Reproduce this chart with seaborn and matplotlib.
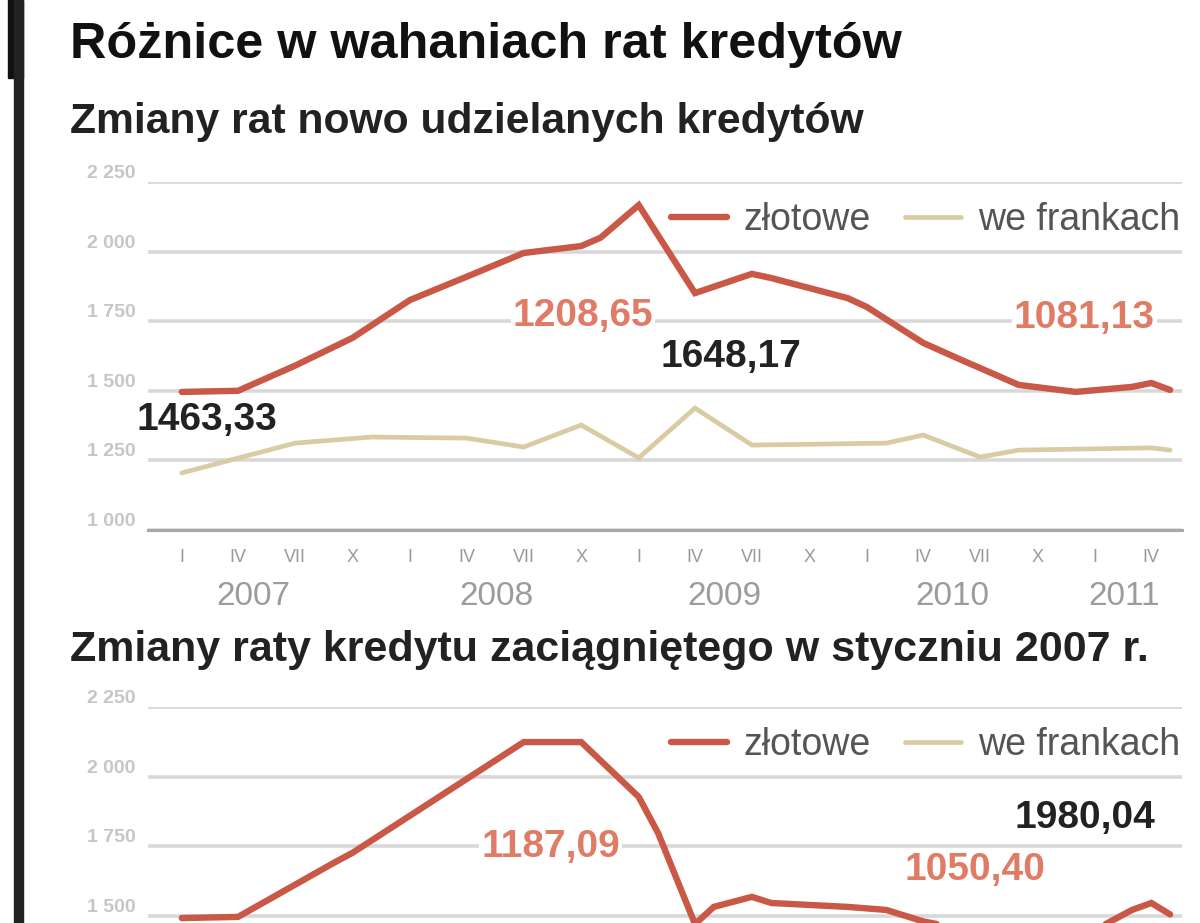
import numpy as np
import pandas as pd
import matplotlib
matplotlib.use("Agg")
import matplotlib.pyplot as plt
import matplotlib.transforms as mtransforms
import seaborn as sns

# dane (miesiac -> rata w zl)
top_zl_dates = ["2007-01", "2007-04", "2007-07", "2007-10", "2008-01", "2008-04", "2008-07",
                "2008-10", "2008-11", "2009-01", "2009-04", "2009-07", "2009-08", "2009-12",
                "2010-01", "2010-04", "2010-06", "2010-09", "2010-12", "2011-03", "2011-04", "2011-05"]
top_zl = [1496, 1500, 1590, 1690, 1826, 1910, 1995, 2020, 2050, 2167, 1851, 1920, 1905, 1833,
          1801, 1672, 1611, 1521, 1496, 1514, 1528, 1503]

top_chf_dates = ["2007-01", "2007-07", "2007-11", "2008-04", "2008-07", "2008-10", "2009-01",
                 "2009-04", "2009-07", "2010-02", "2010-04", "2010-07", "2010-09", "2011-04", "2011-05"]
top_chf = [1205, 1312, 1334, 1330, 1298, 1377, 1259, 1438, 1305, 1312, 1341, 1262, 1287, 1295, 1287]

bot_zl_dates = ["2007-01", "2007-04", "2007-09", "2007-10", "2008-07", "2008-10", "2009-01",
                "2009-02", "2009-04", "2009-05", "2009-07", "2009-08", "2009-12", "2010-02",
                "2010-04", "2010-07", "2010-10", "2011-01", "2011-03", "2011-04", "2011-05"]
bot_zl = [1492, 1496, 1690, 1726, 2124, 2124, 1927, 1797, 1470, 1532, 1568, 1546, 1532, 1521,
          1480, 1440, 1430, 1450, 1521, 1546, 1505]

bot_chf_dates = ["2007-01", "2007-07", "2008-01", "2008-07", "2008-10", "2009-01", "2009-04",
                 "2009-07", "2010-04", "2010-07", "2011-05"]
bot_chf = [1205, 1300, 1320, 1290, 1360, 1240, 1420, 1290, 1320, 1250, 1280]

y_ticks = [1000, 1250, 1500, 1750, 2000, 2250]
y_labels = ["1 000", "1 250", "1 500", "1 750", "2 000", "2 250"]
quarter_dates = pd.date_range("2007-01-01", "2011-04-01", freq="QS")
quarter_labels = ["I", "IV", "VII", "X"] * 4 + ["I", "IV"]
years = ["2007", "2008", "2009", "2010", "2011"]
year_pos = ["2007-04-25", "2008-05-18", "2009-05-18", "2010-05-18", "2011-02-16"]

# adnotacje (tekst, data, wartosc, kolor)
top_notes = [("1463,33", "2007-02-10", 1395, "#222222"),
             ("1208,65", "2008-10-04", 1769, "#e07b66"),
             ("1648,17", "2009-05-28", 1621, "#222222"),
             ("1081,13", "2010-12-15", 1761, "#e07b66")]
bot_notes = [("1187,09", "2008-08-13", 1747, "#e07b66"),
             ("1980,04", "2010-12-15", 1851, "#222222"),
             ("1050,40", "2010-06-22", 1665, "#e07b66")]

RED = "#c95846"
TAN = "#d9cba4"
FONT = ["Liberation Sans", "DejaVu Sans"]

sns.set_style("white")
plt.rcParams['font.family'] = FONT

W, H = 1200, 923
fig = plt.figure(figsize=(12, 9.23), dpi=100)


def px_axes(left, top, right, bottom):
    return fig.add_axes([left / W, 1 - bottom / H, (right - left) / W, (bottom - top) / H])


def draw_panel(ax, zl_dates, zl, chf_dates, chf, notes, ticks, show_x=True):
    d1 = pd.DataFrame({"data": pd.to_datetime(zl_dates), "rata": zl})
    d2 = pd.DataFrame({"data": pd.to_datetime(chf_dates), "rata": chf})
    sns.lineplot(data=d2, x="data", y="rata", ax=ax, color=TAN, lw=3.4, label="we frankach",
                 solid_joinstyle="miter")
    sns.lineplot(data=d1, x="data", y="rata", ax=ax, color=RED, lw=4.6, label="złotowe",
                 solid_joinstyle="miter")
    ax.set_xlim(pd.Timestamp("2006-11-08"), pd.Timestamp("2011-05-20"))
    ax.set_ylim(1000, 2250)
    ax.set_xlabel("")
    ax.set_ylabel("")
    for s in ["top", "left", "right"]:
        ax.spines[s].set_visible(False)
    ax.spines["bottom"].set_color("#a8a8a8")
    ax.spines["bottom"].set_linestyle((0, (1, 1)))
    ax.spines["bottom"].set_linewidth(2.2)
    ax.set_yticks([y_ticks[i] for i in ticks])
    ax.set_yticklabels([y_labels[i] for i in ticks])
    ax.yaxis.grid(True, color="#d8d8d8", lw=2.6)
    ax.set_axisbelow(True)
    ax.tick_params(axis="y", length=0, pad=9, labelsize=14, labelcolor="#c6c6c6")
    for lbl in ax.get_yticklabels():
        lbl.set_fontweight("bold")
        lbl.set_va("bottom")
    ax.set_xticks(quarter_dates)
    if show_x:
        ax.set_xticklabels(quarter_labels)
        ax.tick_params(axis="x", length=0, pad=14, labelsize=13, labelcolor="#9a9a9a")
        tr = mtransforms.blended_transform_factory(ax.transData, ax.transAxes)
        for y, d in zip(years, year_pos):
            ax.text(pd.Timestamp(d), -0.19, y, transform=tr, ha="center", va="center",
                    fontsize=24, color="#9c9c9c")
    else:
        ax.set_xticklabels([])
        ax.tick_params(axis="x", length=0)
    for txt, d, v, c in notes:
        ax.text(pd.Timestamp(d), v, txt, ha="center", va="center", fontsize=28,
                fontweight="bold", color=c,
                bbox=dict(facecolor="white", edgecolor="none", pad=1.5))
    h, l = ax.get_legend_handles_labels()
    ax.legend(h[::-1], l[::-1], loc="upper right", bbox_to_anchor=(1.0126, 0.985), ncol=2,
              frameon=False, fontsize=27, handlelength=1.5, columnspacing=0.9,
              handletextpad=0.45, labelcolor="#555555", borderaxespad=0)


ax1 = px_axes(148, 182, 1182, 530)
draw_panel(ax1, top_zl_dates, top_zl, top_chf_dates, top_chf, top_notes, range(6))

# dolny panel jest w oryginale uciety u dolu
ax2 = px_axes(148, 707, 1182, 1055)
draw_panel(ax2, bot_zl_dates, bot_zl, bot_chf_dates, bot_chf, bot_notes, range(2, 6), show_x=False)

# lewy pasek
fig.patches.append(plt.Rectangle((8 / W, 1 - 78 / H), 15 / W, 78 / H, transform=fig.transFigure,
                                 color="#111111", zorder=5))
fig.patches.append(plt.Rectangle((14 / W, 0), 9 / W, 1, transform=fig.transFigure,
                                 color="#222222", zorder=5))

fig.text(70 / W, 1 - 45 / H, "Różnice w wahaniach rat kredytów", fontsize=36.3,
         fontweight="bold", color="#111111", va="center", ha="left")
fig.text(70 / W, 1 - 122 / H, "Zmiany rat nowo udzielanych kredytów", fontsize=30.7,
         fontweight="bold", color="#222222", va="center", ha="left")
fig.text(70 / W, 1 - 650 / H, "Zmiany raty kredytu zaciągniętego w styczniu 2007 r.", fontsize=31,
         fontweight="bold", color="#222222", va="center", ha="left")

fig.savefig("out.png", dpi=100)
